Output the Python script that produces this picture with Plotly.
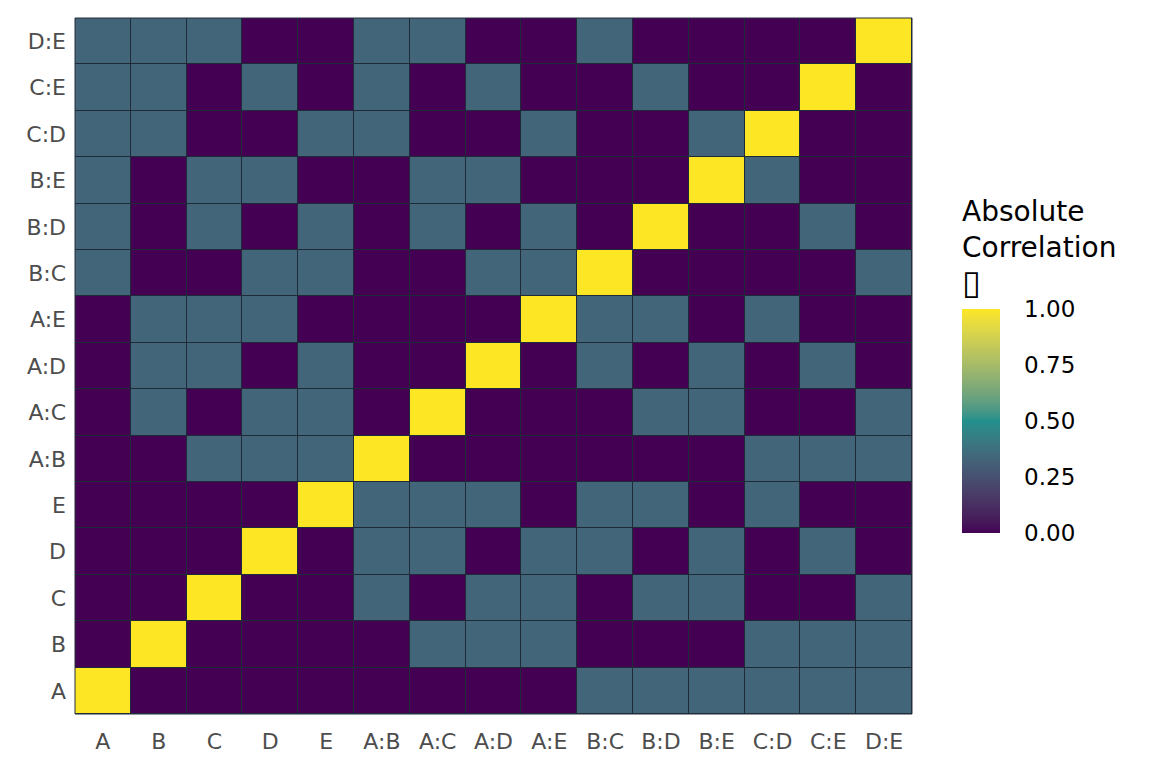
import plotly.graph_objects as go
import numpy as np

# ---- data ----
terms = ["A", "B", "C", "D", "E", "A:B", "A:C", "A:D", "A:E",
         "B:C", "B:D", "B:E", "C:D", "C:E", "D:E"]
P = 0.0      # no correlation
S = 0.333    # moderate absolute correlation
Y = 1.0      # perfect (diagonal)

row_A   = [Y, P, P, P, P, P, P, P, P, S, S, S, S, S, S]
row_B   = [P, Y, P, P, P, P, S, S, S, P, P, P, S, S, S]
row_C   = [P, P, Y, P, P, S, P, S, S, P, S, S, P, P, S]
row_D   = [P, P, P, Y, P, S, S, P, S, S, P, S, P, S, P]
row_E   = [P, P, P, P, Y, S, S, S, P, S, S, P, S, P, P]
row_AB  = [P, P, S, S, S, Y, P, P, P, P, P, P, S, S, S]
row_AC  = [P, S, P, S, S, P, Y, P, P, P, S, S, P, P, S]
row_AD  = [P, S, S, P, S, P, P, Y, P, S, P, S, P, S, P]
row_AE  = [P, S, S, S, P, P, P, P, Y, S, S, P, S, P, P]
row_BC  = [S, P, P, S, S, P, P, S, S, Y, P, P, P, P, S]
row_BD  = [S, P, S, P, S, P, S, P, S, P, Y, P, P, S, P]
row_BE  = [S, P, S, S, P, P, S, S, P, P, P, Y, S, P, P]
row_CD  = [S, S, P, P, S, S, P, P, S, P, P, S, Y, P, P]
row_CE  = [S, S, P, S, P, S, P, S, P, P, S, P, P, Y, P]
row_DE  = [S, S, S, P, P, S, S, P, P, S, P, P, P, P, Y]

z = [row_A, row_B, row_C, row_D, row_E, row_AB, row_AC, row_AD, row_AE,
     row_BC, row_BD, row_BE, row_CD, row_CE, row_DE]

colorbar_ticks = [0.0, 0.25, 0.5, 0.75, 1.0]
colorbar_ticktext = ["0.00", "0.25", "0.50", "0.75", "1.00"]

# ---- colour scale: Lab interpolation of three viridis anchors ----
anchors = ["#440154", "#21908C", "#FDE725"]


def hex2rgb(h):
    h = h.lstrip("#")
    return np.array([int(h[i:i + 2], 16) for i in (0, 2, 4)]) / 255.0


def srgb2lin(c):
    return np.where(c <= 0.04045, c / 12.92, ((c + 0.055) / 1.055) ** 2.4)


def lin2srgb(c):
    c = np.clip(c, 0, 1)
    return np.where(c <= 0.0031308, 12.92 * c, 1.055 * c ** (1 / 2.4) - 0.055)


M = np.array([[0.4124, 0.3576, 0.1805],
              [0.2126, 0.7152, 0.0722],
              [0.0193, 0.1192, 0.9505]])
Minv = np.linalg.inv(M)
WHITE = np.array([0.95047, 1.0, 1.08883])


def f(t):
    d = 6 / 29
    return np.where(t > d ** 3, np.cbrt(t), t / (3 * d * d) + 4 / 29)


def finv(t):
    d = 6 / 29
    return np.where(t > d, t ** 3, 3 * d * d * (t - 4 / 29))


def rgb2lab(rgb):
    xyz = M @ srgb2lin(rgb) / WHITE
    fx, fy, fz = f(xyz)
    return np.array([116 * fy - 16, 500 * (fx - fy), 200 * (fy - fz)])


def lab2rgb(lab):
    L, a, b = lab
    fy = (L + 16) / 116
    fx = fy + a / 500
    fz = fy - b / 200
    xyz = finv(np.array([fx, fy, fz])) * WHITE
    return lin2srgb(Minv @ xyz)


labs = [rgb2lab(hex2rgb(h)) for h in anchors]
colorscale = []
n = 40
for i in range(n + 1):
    t = i / n
    if t <= 0.5:
        u = t / 0.5
        lab = labs[0] * (1 - u) + labs[1] * u
    else:
        u = (t - 0.5) / 0.5
        lab = labs[1] * (1 - u) + labs[2] * u
    r, g, b = (lab2rgb(lab) * 255).round().astype(int)
    colorscale.append([t, f"rgb({r},{g},{b})"])

# ---- figure ----
L, R, T, B = 75, 240, 18, 54
W, H = 1152, 768
plot_w = W - L - R
plot_h = H - T - B

fig = go.Figure(
    go.Heatmap(
        z=z, x=terms, y=terms,
        zmin=0, zmax=1,
        colorscale=colorscale,
        xgap=1, ygap=1,
        colorbar=dict(
            title=dict(text="Absolute<br>Correlation<br>"
                            "<span style='font-size:34px'>\u25af</span>",
                       side="top",
                       font=dict(size=28, color="#000000", family="DejaVu Sans")),
            tickvals=colorbar_ticks,
            ticktext=colorbar_ticktext,
            tickfont=dict(size=23, color="#000000", family="DejaVu Sans"),
            ticks="outside", ticklen=20, tickcolor="rgba(0,0,0,0)",
            thickness=38,
            len=336, lenmode="pixels",
            x=(962 - L) / plot_w, xanchor="left", xpad=0,
            y=1 - (533 - T) / plot_h, yanchor="bottom", ypad=0,
            outlinewidth=0,
        ),
    )
)

fig.add_shape(type="rect", xref="x domain", yref="y domain",
              x0=0, x1=1, y0=0, y1=1,
              line=dict(color="#26303c", width=1), fillcolor="rgba(0,0,0,0)")

fig.update_layout(
    width=W, height=H,
    margin=dict(l=L, r=R, t=T, b=B, pad=0, autoexpand=False),
    paper_bgcolor="white",
    plot_bgcolor="#1e2a38",
    font=dict(family="DejaVu Sans"),
)
fig.update_xaxes(type="category", showgrid=False, zeroline=False,
                 ticks="", ticklabelstandoff=12, automargin=False,
                 tickfont=dict(size=22, color="#4d4d4d", family="DejaVu Sans"))
fig.update_yaxes(type="category", showgrid=False, zeroline=False,
                 ticks="", ticklabelstandoff=8, automargin=False,
                 tickfont=dict(size=22, color="#4d4d4d", family="DejaVu Sans"))

fig.write_html("out.html", config={"displayModeBar": False},
               post_script="document.body.style.margin='0';")
